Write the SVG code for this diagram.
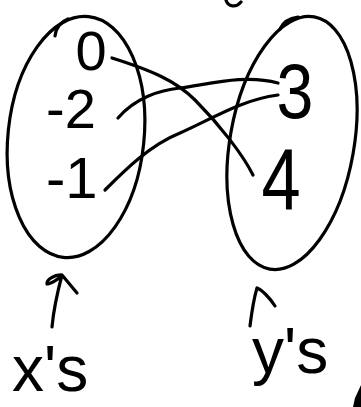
<svg xmlns="http://www.w3.org/2000/svg" width="361" height="407" viewBox="0 0 361 407">
<style>
.s{fill:none;stroke:#000;stroke-width:3.2;stroke-linecap:round;stroke-linejoin:round}
.t{font-family:"Liberation Sans",Arial,sans-serif;fill:#000}
</style>
<rect width="361" height="407" fill="#fff"/>
<g id="xs-set">
<ellipse class="s" cx="76" cy="137" rx="68" ry="121" transform="rotate(6 76 137)"/>
<path class="s" d="M55,36 C56,28 60,22 68,19"/>
<text class="t" x="91" y="70" font-size="56" text-anchor="middle">0</text>
<text class="t" x="46" y="128" font-size="56">-2</text>
<text class="t" x="46" y="198" font-size="58">-1</text>
</g>
<g id="ys-set">
<ellipse class="s" cx="292" cy="143" rx="62" ry="128" transform="rotate(10 292 143)"/>
<path class="s" d="M280,29 C283,22 290,18 298,17"/>
<text class="t" x="295" y="118" font-size="78" text-anchor="middle" transform="translate(295 0) scale(0.85 1) translate(-295 0)">3</text>
<text class="t" x="281" y="210" font-size="88" text-anchor="middle" transform="translate(281 0) scale(0.8 1) translate(-281 0)">4</text>
</g>
<g id="connectors">
<path class="s" d="M112,58 C150,70 175,80 195,100 C220,125 243,155 253,175"/>
<path class="s" d="M118,118 C135,98 160,90 180,88 C210,84 245,74 278,83"/>
<path class="s" d="M105,190 C125,170 150,145 180,133 C210,120 240,100 278,95"/>
</g>
<g id="xs-label">
<path class="s" d="M52,327 C54,305 58,290 62,275 C55,274 46,280 47,284 C50,284 58,280 62,275 L77,293"/>
<text class="t" x="12" y="391" font-size="64">x's</text>
</g>
<g id="ys-label">
<path class="s" d="M250,326 C252,310 254,298 257,288 C262,290 270,298 275,306"/>
<text class="t" x="252" y="373" font-size="64">y's</text>
</g>
<path class="s" d="M226,0 C228,7 236,8 241,2"/>
<polygon points="353,407 355,398 361,385 361,407" fill="#000"/>
</svg>
